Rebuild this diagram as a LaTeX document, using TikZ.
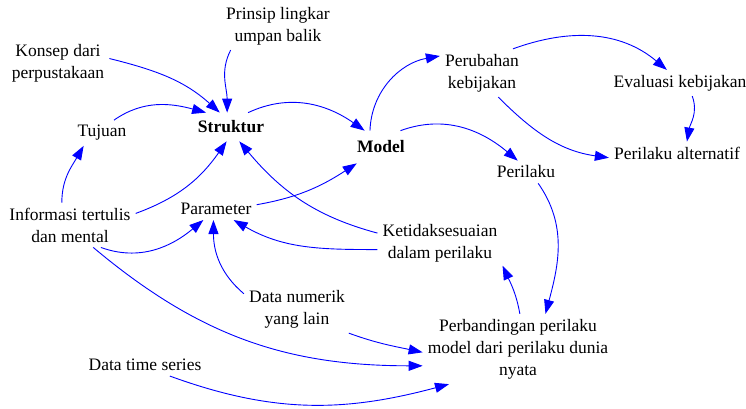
\documentclass[tikz,border=0pt]{standalone}
\usepackage{fontspec}
\setmainfont{Liberation Serif}
\usetikzlibrary{arrows.meta}

\begin{document}
\begin{tikzpicture}[x=1pt,y=1pt,>={Triangle[length=14pt,width=10pt]},
  every node/.style={align=center,inner sep=5pt,font=\fontsize{17.5}{22}\selectfont},
  key/.style={font=\fontsize{17.5}{22}\selectfont\bfseries},
  link/.style={->,blue,line width=0.9pt}]

\useasboundingbox (0,0) rectangle (746,409);

\node (prinsip)      at (278,383) {Prinsip lingkar\\umpan balik};
\node (konsep)       at (58,346)  {Konsep dari\\perpustakaan};
\node (tujuan)       at (102,276) {Tujuan};
\node[key,inner ysep=8pt] (struktur) at (231,282) {Struktur};
\node[key,inner ysep=10pt] (model)   at (381,262) {Model};
\node (perubahan)    at (482,336) {Perubahan\\kebijakan};
\node (evaluasi)     at (680,326) {Evaluasi kebijakan};
\node (alternatif)   at (677,256) {Perilaku alternatif};
\node (perilaku)     at (526,237) {Perilaku};
\node (informasi)    at (70,184)  {Informasi tertulis\\dan mental};
\node (parameter)    at (216,200) {Parameter};
\node (ketidak)      at (440,166) {Ketidaksesuaian\\dalam perilaku};
\node (numerik)      at (297,100) {Data numerik\\yang lain};
\node (timeseries)   at (145,44)  {Data time series};
\node (perbandingan) at (518,60)  {Perbandingan perilaku\\model dari perilaku dunia\\nyata};

\path[link]
  (konsep.5)         edge[out=-14,in=138] (struktur.128)
  (prinsip.207)      edge[out=243,in=90]  (struktur.105)
  (tujuan.47)        edge[out=35,in=165]  (struktur.150)
  (struktur.40)      edge[out=25,in=145]  (model.135)
  (model.124)        edge[out=88,in=190]  (perubahan.158)
  (model.40)         edge[out=20,in=140]  (perilaku.126)
  (perubahan.38)     edge[out=20,in=140]  (evaluasi.135)
  (perubahan.-56)    edge[out=-45,in=172] (alternatif.184)
  (evaluasi.-47)     edge[out=-70,in=80]  (alternatif.49)
  (informasi.110)    edge[out=90,in=240]  (tujuan.215)
  (informasi.10)     edge[out=20,in=235]  (struktur.253)
  (parameter.6)      edge[out=10,in=213]  (model.214)
  (ketidak.171)      edge[out=165,in=-50] (struktur.-60)
  (ketidak.186)      edge[out=180,in=-30] (parameter.-32)
  (informasi.-36)    edge[out=-20,in=220] (parameter.221)
  (numerik.164)      edge[out=140,in=270] (parameter.257)
  (numerik.-25)      edge[out=-20,in=168] (perbandingan.182)
  (informasi.-44)    edge[out=-40,in=180] (perbandingan.190)
  (timeseries.-24)   edge[out=-20,in=195] (perbandingan.207)
  (perilaku.-43)     edge[out=-55,in=75]  (perbandingan.52)
  (perbandingan.87)  edge[out=100,in=-65] (ketidak.-20);

\end{tikzpicture}
\end{document}
